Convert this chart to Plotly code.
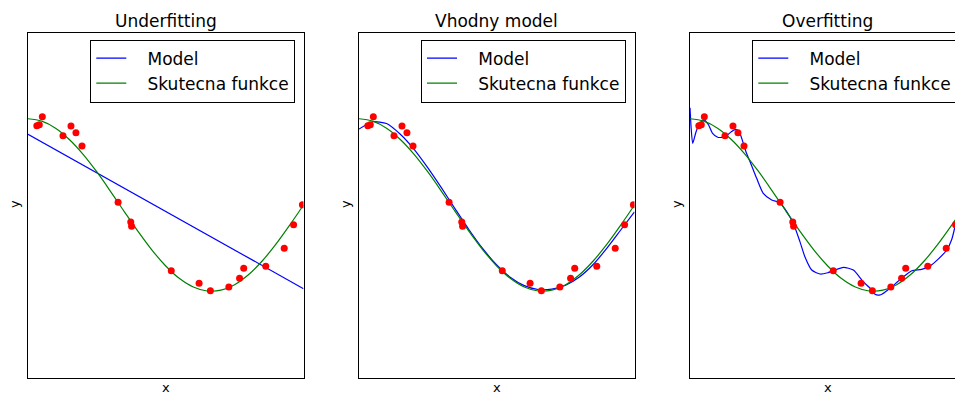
import plotly.graph_objects as go

# ---------------- data ----------------
titles = ["Underfitting", "Vhodny model", "Overfitting"]
legend_labels = ["Model", "Skutecna funkce"]

# noisy samples (same in all panels)
sample_x = [0.032, 0.041, 0.052, 0.127, 0.156, 0.174, 0.196, 0.327, 0.373, 0.376,
            0.520, 0.621, 0.662, 0.729, 0.768, 0.783, 0.863, 0.930, 0.964, 0.996]
sample_y = [0.919, 0.931, 1.024, 0.804, 0.916, 0.839, 0.684, 0.032, -0.197, -0.247,
            -0.762, -0.907, -0.994, -0.951, -0.850, -0.734, -0.711, -0.502, -0.228, 0.003]

# true function read at regular x positions
true_x = [0.0, 0.05, 0.1, 0.15, 0.2, 0.25, 0.3, 0.35, 0.4, 0.45, 0.5,
          0.55, 0.6, 0.65, 0.7, 0.75, 0.8, 0.85, 0.9, 0.95, 1.0]
true_y = [1.0, 0.972, 0.891, 0.760, 0.588, 0.383, 0.156, -0.079, -0.309, -0.523, -0.707,
          -0.853, -0.951, -0.997, -0.988, -0.924, -0.809, -0.649, -0.454, -0.233, 0.0]

# underfitting model (straight line)
under_x = [0.0, 1.0]
under_y = [0.819, -0.970]

# good model
good_x = true_x
good_y = [0.880, 0.965, 0.945, 0.820, 0.645, 0.430, 0.195, -0.050, -0.290, -0.510, -0.695,
          -0.840, -0.935, -0.980, -0.975, -0.930, -0.835, -0.690, -0.500, -0.290, -0.080]

# overfitting model
over_x = [0.0, 0.004, 0.0098, 0.022, 0.036, 0.052, 0.067, 0.082, 0.1005, 0.115, 0.131,
          0.150, 0.167, 0.180, 0.193, 0.205, 0.218, 0.242, 0.266, 0.2965, 0.327, 0.351,
          0.375, 0.399, 0.417, 0.442, 0.472, 0.500, 0.520, 0.557, 0.593, 0.629, 0.660,
          0.6715, 0.690, 0.708, 0.726, 0.768, 0.805, 0.841, 0.871, 0.900, 0.932, 0.950,
          0.959, 0.970]
over_y = [1.128, 0.900, 0.715, 0.850, 0.950, 0.985, 0.930, 0.830, 0.785, 0.785, 0.800,
          0.850, 0.877, 0.840, 0.720, 0.600, 0.502, 0.309, 0.135, 0.058, 0.027, -0.077,
          -0.212, -0.425, -0.599, -0.754, -0.800, -0.785, -0.762, -0.723, -0.754, -0.889, -0.985,
          -1.036, -1.043, -1.010, -0.966, -0.850, -0.762, -0.746, -0.707, -0.630, -0.522, -0.400,
          -0.290, -0.120]

models = [(under_x, under_y), (good_x, good_y), (over_x, over_y)]

# ---------------- layout geometry ----------------
W, H = 955, 394
panel_left = [28, 359, 690]
panel_w = 275.5
top_px, bot_px = 32.5, 377.5
legend_right = [295.3, 626.0, None]
legend_left3 = 752.3
legend_top = 39.5

FONT = "DejaVu Sans"
PAD = "\u00a0\u00a0\u00a0"
fig = go.Figure()

for i in range(3):
    n = "" if i == 0 else str(i + 1)
    xa, ya = "x" + n, "y" + n
    leg = "legend" + n
    mx, my = models[i]
    fig.add_trace(go.Scatter(x=mx, y=my, mode="lines", name=PAD + legend_labels[0],
                             line=dict(color="#0000ff", width=1.2, shape="spline", smoothing=0.6),
                             xaxis=xa, yaxis=ya, legend=leg))
    fig.add_trace(go.Scatter(x=true_x, y=true_y, mode="lines", name=PAD + legend_labels[1],
                             line=dict(color="#008000", width=1.2, shape="spline", smoothing=1.0),
                             xaxis=xa, yaxis=ya, legend=leg))
    fig.add_trace(go.Scatter(x=sample_x, y=sample_y, mode="markers", showlegend=False,
                             marker=dict(color="#ff0000", size=7, line=dict(width=0)),
                             xaxis=xa, yaxis=ya))

    x0 = panel_left[i] / W
    x1 = min((panel_left[i] + panel_w) / W, 1.0)
    xmax = (min(panel_left[i] + panel_w, W) - panel_left[i]) / panel_w
    axis_common = dict(showgrid=False, zeroline=False, showticklabels=False, ticks="",
                       showline=True, linecolor="black", linewidth=1)
    fig.layout["xaxis" + n] = dict(domain=[x0, x1], range=[0, xmax], mirror=True,
                                   anchor=ya, **axis_common)
    fig.layout["yaxis" + n] = dict(domain=[(H - bot_px) / H, (H - top_px) / H], range=[-2, 2],
                                   mirror=(i < 2), anchor=xa, **axis_common)

    cx = (panel_left[i] + panel_w / 2) / W
    fig.add_annotation(text=titles[i], x=cx, y=(H - 21) / H, xref="paper", yref="paper",
                       showarrow=False, xanchor="center", yanchor="middle",
                       font=dict(family=FONT, size=17, color="black"))
    fig.add_annotation(text="x", x=cx, y=-3 / H, xref="paper", yref="paper",
                       showarrow=False, xanchor="center", yanchor="bottom",
                       font=dict(family=FONT, size=13, color="black"))
    fig.add_annotation(text="y", x=(panel_left[i] - 14) / W, y=(H - 204) / H,
                       xref="paper", yref="paper", textangle=-90,
                       showarrow=False, xanchor="center", yanchor="middle",
                       font=dict(family=FONT, size=13, color="black"))

    if legend_right[i] is not None:
        lx, lxa = legend_right[i] / W, "right"
    else:
        lx, lxa = legend_left3 / W, "left"
    fig.layout[leg] = dict(x=lx, xanchor=lxa, y=(H - legend_top) / H, yanchor="top",
                           bgcolor="white", bordercolor="black", borderwidth=1,
                           font=dict(family=FONT, size=17, color="black"),
                           itemwidth=30, tracegroupgap=0)

fig.update_layout(width=W, height=H, margin=dict(l=0, r=0, t=0, b=0, autoexpand=False),
                  paper_bgcolor="white", plot_bgcolor="white",
                  font=dict(family=FONT, color="black"))

fig.write_html("out.html")
